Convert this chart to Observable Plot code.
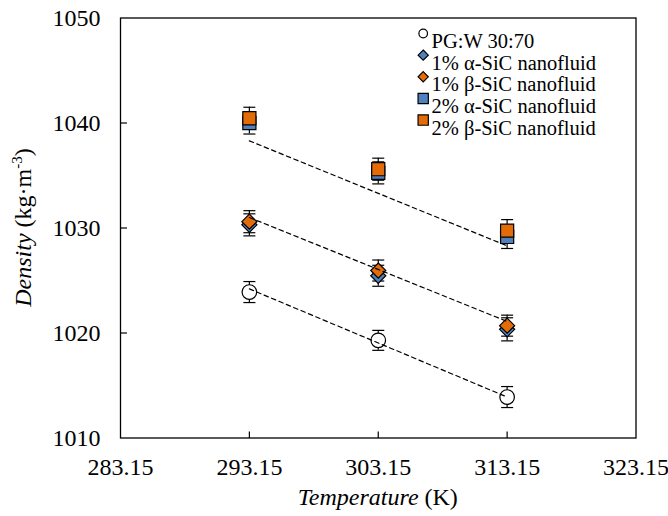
<!DOCTYPE html>
<html>
<head>
<meta charset="utf-8">
<script src="https://cdn.jsdelivr.net/npm/d3@7"></script>
<script src="https://cdn.jsdelivr.net/npm/@observablehq/plot@0.6"></script>
<style>
  html, body { margin: 0; padding: 0; background: white; }
  svg text, svg tspan { font-family: "Liberation Serif", "Times New Roman", Times, serif; }
</style>
</head>
<body>
<div id="chart"></div>
<script>
// ---- data ----
const temps = [293.15, 303.15, 313.15];
const seriesNames = ["PG:W 30:70", "1% α-SiC nanofluid", "1% β-SiC nanofluid", "2% α-SiC nanofluid", "2% β-SiC nanofluid"];
const pgw       = [1023.9, 1019.3, 1013.9];
const sic1Alpha = [1030.3, 1025.45, 1020.35];
const sic1Beta  = [1030.6, 1025.95, 1020.7];
const sic2Alpha = [1040.0, 1035.25, 1029.15];
const sic2Beta  = [1040.45, 1035.6, 1029.75];
const pgwErr       = [1.0, 0.95, 1.0];
const sic1AlphaErr = [1.05, 1.0, 1.1];
const sic1BetaErr  = [1.05, 1.0, 1.0];
const sic2AlphaErr = [1.05, 1.05, 1.1];
const sic2BetaErr  = [1.05, 1.05, 1.05];
const trendT    = [293.15, 313.15];
const trendPGW  = [1024.2, 1013.9];
const trend1pct = [1031.0, 1021.1];
const trend2pct = [1038.3, 1028.3];
const xTicks = [283.15, 293.15, 303.15, 313.15, 323.15];
const yTicks = [1010, 1020, 1030, 1040, 1050];

// ---- styles ----
const values = [pgw, sic1Alpha, sic1Beta, sic2Alpha, sic2Beta];
const errs = [pgwErr, sic1AlphaErr, sic1BetaErr, sic2AlphaErr, sic2BetaErr];
const BLUE = "#4f81bd", ORANGE = "#e36c09";
const styles = [
  {symbol: "circle",   fill: "white", r: 7.3, lr: 4.3},
  {symbol: "diamond2", fill: BLUE,   r: 6.8, lr: 4.6},
  {symbol: "diamond2", fill: ORANGE, r: 6.8, lr: 4.6},
  {symbol: "square",   fill: BLUE,   r: 7.4, lr: 5.8},
  {symbol: "square",   fill: ORANGE, r: 7.4, lr: 5.8}
];

const rows = [];
values.forEach((vals, i) => vals.forEach((v, j) => rows.push({s: i, x: temps[j], y: v, e: errs[i][j]})));
const trendRows = [];
[trendPGW, trend1pct, trend2pct].forEach((t, k) => t.forEach((v, j) => trendRows.push({k, x: trendT[j], y: v})));

const capSym = {draw(ctx) { ctx.moveTo(-6, 0); ctx.lineTo(6, 0); }};
const tickUp = {draw(ctx) { ctx.moveTo(0, 0); ctx.lineTo(0, -6.5); }};
const tickRight = {draw(ctx) { ctx.moveTo(0, 0); ctx.lineTo(6.5, 0); }};

const W = 668, H = 516;
const mL = 120, mR = 32.5, mT = 17.5, mB = 78.5;
const FONT = "'Liberation Serif', 'Times New Roman', Times, serif";

const marks = [
  // error bars
  Plot.ruleX(rows, {x: "x", y1: d => d.y - d.e, y2: d => d.y + d.e, stroke: "black", strokeWidth: 1.2}),
  Plot.dot(rows, {x: "x", y: d => d.y + d.e, symbol: capSym, fill: "none", stroke: "black", strokeWidth: 1.2}),
  Plot.dot(rows, {x: "x", y: d => d.y - d.e, symbol: capSym, fill: "none", stroke: "black", strokeWidth: 1.2})
];
styles.forEach((st, i) => {
  marks.push(Plot.dot(rows.filter(d => d.s === i), {x: "x", y: "y", symbol: st.symbol, r: st.r, fill: st.fill, stroke: "black", strokeWidth: 1.2}));
});
marks.push(
  Plot.line(trendRows, {x: "x", y: "y", z: "k", stroke: "black", strokeWidth: 1.2, strokeDasharray: "4.5,3.5"}),
  Plot.frame({stroke: "black", strokeWidth: 1.3}),
  Plot.dot(xTicks.slice(1, -1), {x: d => d, frameAnchor: "bottom", symbol: tickUp, fill: "none", stroke: "black", strokeWidth: 1.2}),
  Plot.dot(yTicks.slice(1, -1), {y: d => d, frameAnchor: "left", symbol: tickRight, fill: "none", stroke: "black", strokeWidth: 1.2})
);
// legend
styles.forEach((st, i) => {
  const dy = 15.5 + i * 21.65;
  marks.push(Plot.dot([seriesNames[i]], {frameAnchor: "top-left", dx: 302.7, dy, symbol: st.symbol, r: st.lr, fill: st.fill, stroke: "black", strokeWidth: 1.2}));
  marks.push(Plot.text([seriesNames[i]], {frameAnchor: "top-left", dx: 311, dy, text: d => d, textAnchor: "start", fontSize: 20.5, fill: "black"}));
});

const chart = Plot.plot({
  width: W, height: H,
  marginLeft: mL, marginRight: mR, marginTop: mT, marginBottom: mB,
  style: {fontFamily: FONT, fontSize: "24px", color: "black", background: "white"},
  x: {domain: [283.15, 323.15], ticks: xTicks, tickFormat: d => d.toFixed(2), tickSize: 0, tickPadding: 20, label: null},
  y: {domain: [1010, 1050], ticks: yTicks, tickFormat: d => String(d), tickSize: 0, tickPadding: 20, label: null},
  marks
});
document.getElementById("chart").appendChild(chart);

// axis titles with mixed italic / superscript
const svg = d3.select(chart.tagName.toLowerCase() === "svg" ? chart : chart.querySelector("svg"));
const xl = svg.append("text")
  .attr("x", (mL + W - mR) / 2).attr("y", 505)
  .attr("text-anchor", "middle").attr("font-size", 24).attr("fill", "black").style("font-family", FONT);
xl.append("tspan").attr("font-style", "italic").text("Temperature");
xl.append("tspan").text(" (K)");

const yl = svg.append("text")
  .attr("transform", `translate(31,${(mT + H - mB) / 2}) rotate(-90)`)
  .attr("text-anchor", "middle").attr("font-size", 24).attr("fill", "black").style("font-family", FONT);
yl.append("tspan").attr("font-style", "italic").text("Density");
yl.append("tspan").text(" (kg·m");
yl.append("tspan").attr("font-size", 15).attr("dy", -9).text("-3");
yl.append("tspan").attr("dy", 9).text(")");
</script>
</body>
</html>
